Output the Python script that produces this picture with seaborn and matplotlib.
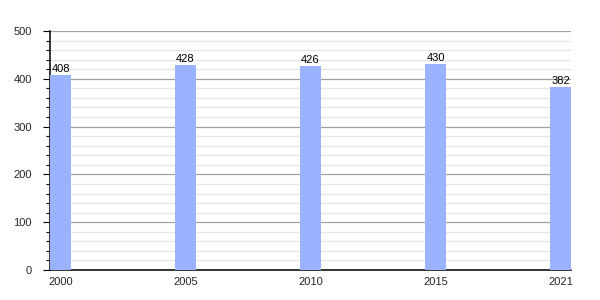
import matplotlib
matplotlib.use("Agg")
import matplotlib.pyplot as plt
import seaborn as sns
import pandas as pd
from matplotlib.ticker import MultipleLocator

years = ["2000", "2005", "2010", "2015", "2021"]
values = [408, 428, 426, 430, 382]

sns.set_theme(style="white")
plt.rcParams['font.family'] = ['Liberation Sans', 'DejaVu Sans']

df = pd.DataFrame({"year": years, "value": values})

fig = plt.figure(figsize=(6, 3), dpi=100)
ax = fig.add_axes([50/600, 30/300, 521/600, 239/300])

sns.barplot(data=df, x="year", y="value", color="#99b3ff", width=0.168,
            saturation=1, linewidth=0, edgecolor="none", ax=ax, zorder=3)

ax.set_ylim(0, 500)
ax.set_xlim(-0.084, 4.084)
ax.yaxis.set_major_locator(MultipleLocator(100))
ax.yaxis.set_minor_locator(MultipleLocator(20))
ax.grid(axis="y", which="major", color="#a0a0a0", linewidth=0.9, zorder=0)
ax.grid(axis="y", which="minor", color="#e4e4e4", linewidth=0.9, zorder=0)
ax.set_axisbelow(True)

for s in ["top", "right"]:
    ax.spines[s].set_visible(False)
for s in ["left", "bottom"]:
    ax.spines[s].set_color("black")
    ax.spines[s].set_linewidth(1.1)

ax.tick_params(axis="y", which="major", left=True, length=5, width=0.8, color="black", labelsize=8, pad=8)
ax.tick_params(axis="y", which="minor", left=True, length=3, width=0.8, color="black")
ax.tick_params(axis="x", which="both", bottom=False, labelsize=8, pad=-1)
ax.set_xlabel("")
ax.set_ylabel("")

for i, v in enumerate(values):
    ax.text(i, v + 3, str(v), ha="center", va="bottom", fontsize=8, color="black")

fig.savefig("out.png", dpi=100, facecolor="white")
